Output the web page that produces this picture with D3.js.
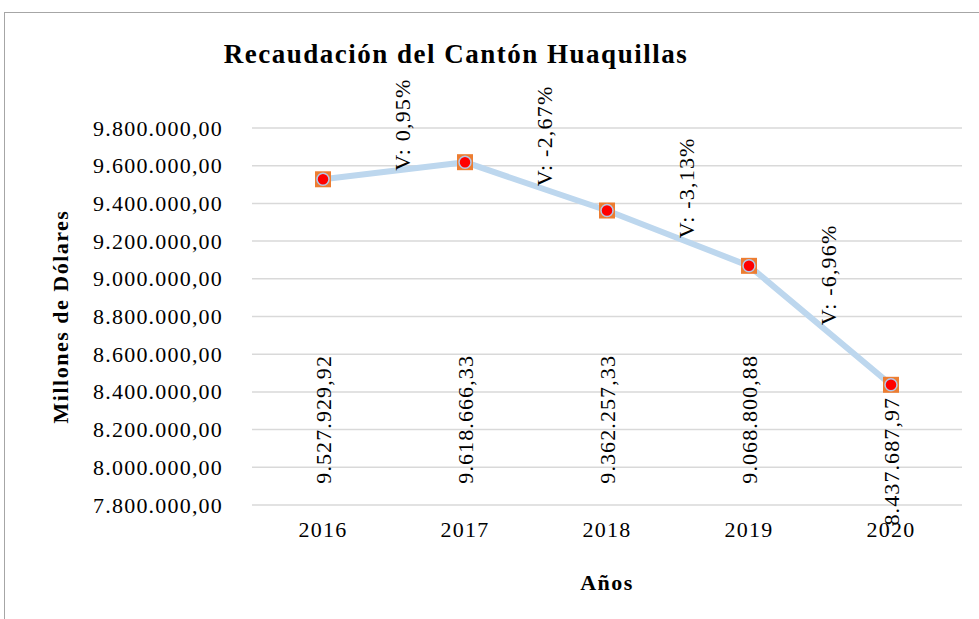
<!DOCTYPE html>
<html>
<head>
<meta charset="utf-8">
<script src="https://cdn.jsdelivr.net/npm/d3@7"></script>
<style>
  body { margin: 0; background: #fff; }
  text { font-family: "Liberation Serif", "Times New Roman", serif; fill: #000; }
</style>
</head>
<body>
<script>
// datos
var years = ["2016", "2017", "2018", "2019", "2020"];
var recaudacion = [9527929.92, 9618666.33, 9362257.33, 9068800.88, 8437687.97];
var variacion = ["V: 0,95%", "V: -2,67%", "V: -3,13%", "V: -6,96%"];
var yTicks = [7800000, 8000000, 8200000, 8400000, 8600000, 8800000, 9000000, 9200000, 9400000, 9600000, 9800000];

var W = 979, H = 619;
var plotLeft = 252, plotRight = 962, plotTop = 128, plotBottom = 505;

var svg = d3.select("body").append("svg")
    .attr("width", W)
    .attr("height", H);

// chart border
svg.append("rect")
    .attr("x", 4.5).attr("y", 12.5)
    .attr("width", W + 10).attr("height", H)
    .attr("fill", "none")
    .attr("stroke", "#a6a6a6")
    .attr("stroke-width", 1);

var x = d3.scaleBand().domain(years).range([plotLeft, plotRight]);
var y = d3.scaleLinear().domain([7800000, 9800000]).range([plotBottom, plotTop]);

var fmt = d3.formatLocale({decimal: ",", thousands: ".", grouping: [3], currency: ["", ""]}).format(",.2f");

// gridlines
svg.append("g").selectAll("line")
    .data(yTicks).enter().append("line")
    .attr("x1", plotLeft).attr("x2", plotRight)
    .attr("y1", function(d) { return y(d); })
    .attr("y2", function(d) { return y(d); })
    .attr("stroke", "#d9d9d9")
    .attr("stroke-width", 1.5);

// y axis labels
var yAxis = d3.axisLeft(y).tickValues(yTicks).tickFormat(fmt).tickSize(0).tickPadding(29);
var gy = svg.append("g").attr("transform", "translate(" + plotLeft + ",0)").call(yAxis);
gy.select(".domain").remove();
gy.selectAll("text")
    .style("font-family", "Liberation Serif, Times New Roman, serif")
    .style("font-size", "22px")
    .style("letter-spacing", "1.2px")
    .attr("fill", "#000");

// x axis labels
var xAxis = d3.axisBottom(x).tickSize(0).tickPadding(16);
var gx = svg.append("g").attr("transform", "translate(0," + plotBottom + ")").call(xAxis);
gx.select(".domain").remove();
gx.selectAll("text")
    .style("font-family", "Liberation Serif, Times New Roman, serif")
    .style("font-size", "22px")
    .style("letter-spacing", "1.2px")
    .attr("fill", "#000");

var cx = function(d, i) { return x(years[i]) + x.bandwidth() / 2; };

// line
var line = d3.line()
    .x(function(d, i) { return cx(d, i); })
    .y(function(d) { return y(d); });

svg.append("path")
    .datum(recaudacion)
    .attr("d", line)
    .attr("fill", "none")
    .attr("stroke", "#bdd7ee")
    .attr("stroke-width", 6)
    .attr("stroke-linejoin", "round");

// markers
var pts = svg.append("g").selectAll("g")
    .data(recaudacion).enter().append("g")
    .attr("transform", function(d, i) { return "translate(" + cx(d, i) + "," + y(d) + ")"; });

pts.append("rect")
    .attr("x", -8).attr("y", -8)
    .attr("width", 16).attr("height", 16)
    .attr("fill", "#ed7d31");
pts.append("circle")
    .attr("r", 6)
    .attr("fill", "#ff0000")
    .attr("stroke", "#b4c7e7")
    .attr("stroke-width", 1.5);

// value labels (rotated)
svg.append("g").selectAll("text")
    .data(recaudacion).enter().append("text")
    .attr("transform", function(d, i) {
        var ty = Math.max(y(d) + 12, 355);
        return "translate(" + cx(d, i) + "," + ty + ") rotate(-90)";
    })
    .attr("text-anchor", "end")
    .attr("dominant-baseline", "central")
    .style("font-size", "22px")
    .style("letter-spacing", "1.1px")
    .text(function(d) { return fmt(d); });

// variation labels
svg.append("g").selectAll("text")
    .data(variacion).enter().append("text")
    .attr("transform", function(d, i) {
        var mx = (cx(0, i) + cx(0, i + 1)) / 2 + 8;
        var my = (y(recaudacion[i]) + y(recaudacion[i + 1])) / 2;
        return "translate(" + mx + "," + my + ") rotate(-90)";
    })
    .attr("text-anchor", "start")
    .attr("dominant-baseline", "central")
    .style("font-size", "22px")
    .style("letter-spacing", "1.2px")
    .text(function(d) { return d; });

// title
svg.append("text")
    .attr("x", 456).attr("y", 63)
    .attr("text-anchor", "middle")
    .style("font-size", "27px")
    .style("font-weight", "bold")
    .style("letter-spacing", "1.5px")
    .text("Recaudación del Cantón Huaquillas");

// axis titles
svg.append("text")
    .attr("transform", "translate(68," + (plotTop + plotBottom) / 2 + ") rotate(-90)")
    .attr("text-anchor", "middle")
    .style("font-size", "22px")
    .style("font-weight", "bold")
    .style("letter-spacing", "1.5px")
    .text("Millones de Dólares");

svg.append("text")
    .attr("x", (plotLeft + plotRight) / 2).attr("y", 590)
    .attr("text-anchor", "middle")
    .style("font-size", "22px")
    .style("font-weight", "bold")
    .style("letter-spacing", "1.5px")
    .text("Años");
</script>
</body>
</html>
